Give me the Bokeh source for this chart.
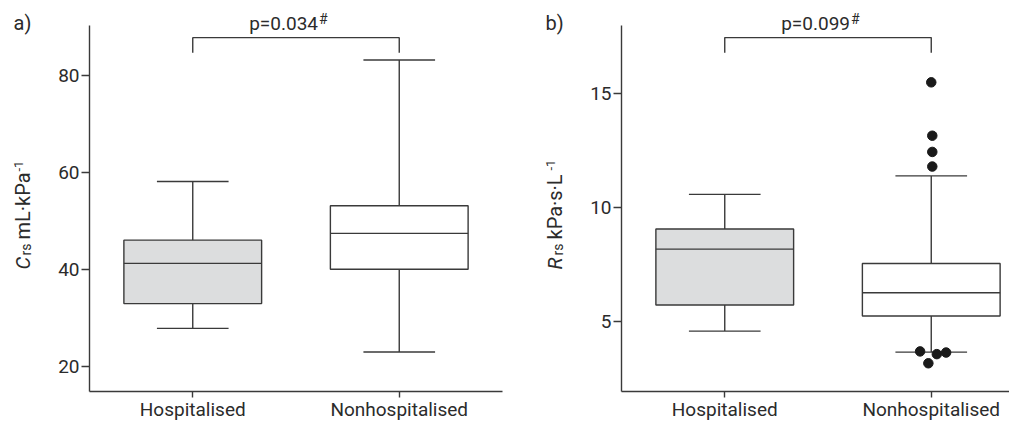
import numpy as np
from bokeh.plotting import figure
from bokeh.models import Range1d, FixedTicker, Label, ColumnDataSource
from bokeh.layouts import row
from bokeh.embed import file_html
from bokeh.resources import INLINE

# ---------------- data ----------------
categories = ["Hospitalised", "Nonhospitalised"]

# panel a: Crs (mL·kPa-1)
crs_min = [27.8, 22.9]
crs_q1 = [32.9, 40.0]
crs_median = [41.2, 47.4]
crs_q3 = [46.0, 53.1]
crs_max = [58.1, 83.2]
crs_ticks = [20, 40, 60, 80]
crs_axis_range = [14.76, 90.31]
crs_pvalue = "p=0.034"
crs_bracket = [84.7, 87.8]   # leg bottom, bracket top

# panel b: Rrs (kPa·s·L-1)
rrs_min = [4.60, 3.68]
rrs_q1 = [5.74, 5.26]
rrs_median = [8.19, 6.28]
rrs_q3 = [9.07, 7.56]
rrs_max = [10.59, 11.40]
rrs_outlier_cat = [1, 1, 1, 1, 1, 1, 1, 1]
rrs_outlier_val = [15.50, 13.16, 12.45, 11.81, 3.71, 3.59, 3.66, 3.19]
rrs_outlier_jitter = [0.0, 0.005, 0.005, 0.005, -0.054, 0.027, 0.072, -0.014]
rrs_ticks = [5, 10, 15]
rrs_axis_range = [1.953, 17.99]
rrs_pvalue = "p=0.099"
rrs_bracket = [16.80, 17.46]

# ---------------- style / layout ----------------
FONT = "Roboto"
TXT = "#2b2b2b"
LINE = "#3a3a3a"
LW = 1.4
BOX_FILL = ["#dcddde", "#ffffff"]
UNIT = 206.5          # px per category
AX_TOP = 25           # px (top of y axis)
AX_BOTTOM = 391       # px (x axis line)
H = 420
BOX_W = 0.667
CAP_W = 0.347
BSHIFT = 0.46         # correction for baseline placement (fraction of font size)


def make_panel(letter, mins, q1, med, q3, maxs, ticks, axis_range, fig_left, fig_w,
               axis_px, ylab_sym, ylab_main, sup_start, pvalue, bracket, outliers=None):
    y0, y1 = axis_range
    ppu = (AX_BOTTOM - AX_TOP) / (y1 - y0)

    def px_x(px):
        return (px - axis_px) / UNIT

    def px_y(py):
        return y0 + (AX_BOTTOM - py) / ppu

    def htext(px, baseline_py, text, size, align="left", **kw):
        p.add_layout(Label(x=px_x(px), y=px_y(baseline_py - BSHIFT * size), text=text,
                           text_align=align, text_baseline="alphabetic", text_font=FONT,
                           text_font_size=f"{size}px", text_color=TXT, **kw))

    def vtext(baseline_px, start_py, text, size, **kw):
        p.add_layout(Label(x=px_x(baseline_px - BSHIFT * size), y=px_y(start_py), text=text,
                           angle=np.pi / 2, text_align="left", text_baseline="alphabetic",
                           text_font=FONT, text_font_size=f"{size}px", text_color=TXT, **kw))

    x_end = px_x(fig_left + fig_w)
    p = figure(width=fig_w, height=H,
               x_range=Range1d(px_x(fig_left), x_end),
               y_range=Range1d(px_y(H), px_y(0)),
               output_backend="svg", toolbar_location=None,
               min_border_left=0, min_border_right=0,
               min_border_top=0, min_border_bottom=0)
    p.outline_line_color = None
    p.grid.visible = False
    p.background_fill_color = "white"
    p.border_fill_color = "white"

    xs = [i + 0.5 for i in range(len(categories))]
    src = ColumnDataSource(dict(x=xs, lo=mins, q1=q1, med=med, q3=q3, hi=maxs,
                                fill=BOX_FILL,
                                bl=[x - BOX_W / 2 for x in xs], br=[x + BOX_W / 2 for x in xs],
                                cl=[x - CAP_W / 2 for x in xs], cr=[x + CAP_W / 2 for x in xs]))
    # whiskers
    p.segment("x", "q3", "x", "hi", source=src, line_color=LINE, line_width=LW)
    p.segment("x", "q1", "x", "lo", source=src, line_color=LINE, line_width=LW)
    p.segment("cl", "hi", "cr", "hi", source=src, line_color=LINE, line_width=LW)
    p.segment("cl", "lo", "cr", "lo", source=src, line_color=LINE, line_width=LW)
    # boxes
    p.vbar(x="x", width=BOX_W, bottom="q1", top="q3", source=src,
           fill_color="fill", line_color=LINE, line_width=LW)
    p.segment("bl", "med", "br", "med", source=src, line_color=LINE, line_width=LW)

    if outliers is not None:
        cats, vals, jit = outliers
        p.scatter([xs[c] + j for c, j in zip(cats, jit)], vals, size=9.5,
                  color="#1a1a1a", line_color="#1a1a1a")

    # significance bracket
    p.line([xs[0], xs[0], xs[1], xs[1]], [bracket[0], bracket[1], bracket[1], bracket[0]],
           line_color=LINE, line_width=LW)
    cx_px = axis_px + UNIT * (xs[0] + xs[1]) / 2
    htext(cx_px + 22, 31.7, pvalue, 19, align="right")
    htext(cx_px + 23, 25.0, "#", 14)

    # panel letter
    htext(axis_px - 76, 31.5, letter + ")", 20)

    # y-axis label built from parts (rotated)
    vtext(axis_px - 57, 269, ylab_sym, 20, text_font_style="italic")
    vtext(axis_px - 57, 255, "rs", 14)
    vtext(axis_px - 57, 239, ylab_main, 20)
    vtext(axis_px - 65, sup_start, "-1", 13)

    # axes placed at fixed locations inside the frame
    for ax in (p.xaxis[0], p.yaxis[0]):
        ax.axis_line_color = LINE
        ax.axis_line_width = LW
        ax.major_tick_line_color = LINE
        ax.major_tick_line_width = LW
        ax.major_tick_in = 0
        ax.minor_tick_line_color = None
        ax.major_label_text_font = FONT
        ax.major_label_text_color = TXT
    p.xaxis.fixed_location = y0
    p.xaxis.bounds = (0, min(2.0, x_end))
    p.xaxis.ticker = FixedTicker(ticks=xs)
    p.xaxis.major_label_overrides = {x: c for x, c in zip(xs, categories)}
    p.xaxis.major_tick_out = 6
    p.xaxis.major_label_text_font_size = "19px"
    p.xaxis.major_label_standoff = 0
    p.yaxis.fixed_location = 0
    p.yaxis.bounds = (y0, y1)
    p.yaxis.ticker = FixedTicker(ticks=ticks)
    p.yaxis.major_tick_out = 8
    p.yaxis.major_label_standoff = 2
    p.yaxis.major_label_text_font_size = "19px"
    return p


pa = make_panel("a", crs_min, crs_q1, crs_median, crs_q3, crs_max, crs_ticks,
                crs_axis_range, 0, 505, 89, "C", "mL·kPa", 171,
                crs_pvalue, crs_bracket)
pb = make_panel("b", rrs_min, rrs_q1, rrs_median, rrs_q3, rrs_max, rrs_ticks,
                rrs_axis_range, 505, 504, 621, "R", "kPa·s·L", 170,
                rrs_pvalue, rrs_bracket,
                outliers=(rrs_outlier_cat, rrs_outlier_val, rrs_outlier_jitter))

layout = row(pa, pb, spacing=0)
open("out.html", "w").write(file_html(layout, INLINE))
